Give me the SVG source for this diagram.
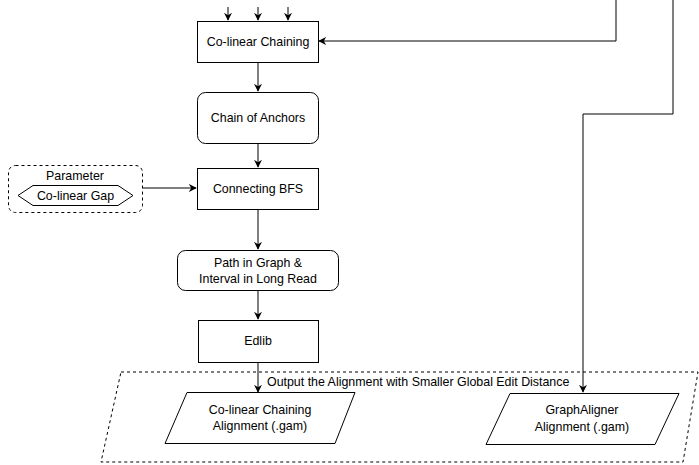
<svg xmlns="http://www.w3.org/2000/svg" width="699" height="465" viewBox="0 0 699 465">
<defs>
<marker id="arr" viewBox="0 0 10 10" refX="9" refY="5" markerWidth="8" markerHeight="8" markerUnits="userSpaceOnUse" orient="auto">
<path d="M0,0 L10,5 L0,10 L3,5 Z" fill="#000"/>
</marker>
<style>
.box{fill:#fff;stroke:#000;stroke-width:1}
.dash{fill:none;stroke:#000;stroke-width:1;stroke-dasharray:3 3}
.ln{fill:none;stroke:#000;stroke-width:1}
.t{font-family:"Liberation Sans",Arial,sans-serif;font-size:12.4px;fill:#000;text-anchor:middle;dominant-baseline:central}
.tl{font-family:"Liberation Sans",Arial,sans-serif;font-size:12.4px;fill:#000;dominant-baseline:central}
</style>
</defs>
<rect width="699" height="465" fill="#fff"/>
<g id="output-group">
<polygon class="dash" points="121,372 698,372 683,462 101,462"/>
<text class="tl" x="267" y="382">Output the Alignment with Smaller Global Edit Distance</text>
</g>
<g id="connectors">
<path class="ln" d="M228,7 V20" marker-end="url(#arr)"/>
<path class="ln" d="M258,7 V20" marker-end="url(#arr)"/>
<path class="ln" d="M288,7 V20" marker-end="url(#arr)"/>
<path class="ln" d="M616,0 V41 H319" marker-end="url(#arr)"/>
<path class="ln" d="M673,0 V114 H583 V392" marker-end="url(#arr)"/>
<path class="ln" d="M258,62 V91" marker-end="url(#arr)"/>
<path class="ln" d="M258,143 V167" marker-end="url(#arr)"/>
<path class="ln" d="M143,188 H196" marker-end="url(#arr)"/>
<path class="ln" d="M258,209 V249" marker-end="url(#arr)"/>
<path class="ln" d="M258,290 V319" marker-end="url(#arr)"/>
<path class="ln" d="M258,362 V392" marker-end="url(#arr)"/>
</g>
<g id="colinear-chaining">
<rect class="box" x="197.5" y="21.5" width="121" height="41"/>
<text class="t" x="258" y="42">Co-linear Chaining</text>
</g>
<g id="chain-of-anchors">
<rect class="box" x="197.5" y="92.5" width="121" height="51" rx="8"/>
<text class="t" x="258" y="118">Chain of Anchors</text>
</g>
<g id="parameter">
<rect class="dash" x="8.5" y="165.5" width="134" height="47" rx="7"/>
<text class="t" x="75" y="176">Parameter</text>
<polygon class="box" points="18,195.5 33,185.5 118,185.5 133,195.5 118,205.5 33,205.5"/>
<text class="t" x="75.5" y="196">Co-linear Gap</text>
</g>
<g id="connecting-bfs">
<rect class="box" x="197.5" y="168.5" width="121" height="41"/>
<text class="t" x="258" y="189">Connecting BFS</text>
</g>
<g id="path-in-graph">
<rect class="box" x="177.5" y="250.5" width="161" height="40" rx="8"/>
<text class="t" x="258" y="263">Path in Graph &amp;</text>
<text class="t" x="258" y="279">Interval in Long Read</text>
</g>
<g id="edlib">
<rect class="box" x="198.5" y="320.5" width="120" height="42"/>
<text class="t" x="258" y="341">Edlib</text>
</g>
<g id="colinear-alignment">
<polygon class="box" points="187,392.5 355,392.5 335,443.5 165,443.5"/>
<text class="t" x="260" y="410">Co-linear Chaining</text>
<text class="t" x="260" y="426">Alignment (.gam)</text>
</g>
<g id="graphaligner-alignment">
<polygon class="box" points="510,393.5 679,393.5 655,444.5 486,444.5"/>
<text class="t" x="582" y="410">GraphAligner</text>
<text class="t" x="582" y="427">Alignment (.gam)</text>
</g>
</svg>
